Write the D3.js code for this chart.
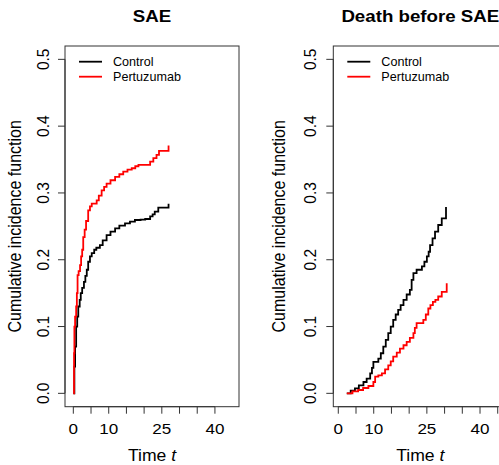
<!DOCTYPE html>
<html><head><meta charset="utf-8">
<script src="https://cdn.jsdelivr.net/npm/d3@7"></script>
<style>html,body{margin:0;padding:0;background:#fff;}svg{display:block;font-family:"Liberation Sans",Arial,Helvetica,sans-serif;}</style>
</head><body>
<svg id="chart" width="499" height="465"></svg>
<script>
// ---- data ----
const panelTitles = ["SAE", "Death before SAE"];
const seriesNames = ["Control", "Pertuzumab"];
const seriesColors = ["#000000", "#ff0000"];
const xTicksLeft = [0, 5, 10, 15, 20, 25, 30, 35, 40];
const xTicksRight = [0, 5, 10, 15, 20, 25, 30, 35, 40, 45];
const xTickLabelsLeft = ["0", "", "10", "", "", "25", "", "", "40"];
const xTickLabelsRight = ["0", "", "10", "", "", "25", "", "", "40", ""];
const yTicks = [0, 0.1, 0.2, 0.3, 0.4, 0.5];
const yTickLabels = ["0.0", "0.1", "0.2", "0.3", "0.4", "0.5"];

const saeControlT = [0, 0.3, 0.5, 0.8, 1.1, 1.4, 1.8, 2.1, 2.5, 3.0, 3.4, 3.8, 4.2, 4.7, 5.2, 5.9, 6.5, 7.5, 8.3, 9.4, 10.5, 11.8, 13, 14.6, 16, 17.4, 19, 20.3, 21.7, 22.4, 23, 24, 26.9];
const saeControlV = [0, 0.04, 0.07, 0.1, 0.115, 0.13, 0.14, 0.15, 0.158, 0.167, 0.176, 0.185, 0.197, 0.205, 0.21, 0.215, 0.218, 0.222, 0.229, 0.237, 0.242, 0.247, 0.251, 0.2545, 0.257, 0.2595, 0.26, 0.261, 0.265, 0.268, 0.272, 0.278, 0.284];
const saeTrtT = [0, 0.2, 0.3, 0.5, 0.8, 1.0, 1.2, 1.5, 1.9, 2.2, 2.5, 2.8, 3.2, 3.6, 4.2, 4.7, 5.2, 6.6, 7.2, 8.0, 8.7, 9.4, 10.5, 11.8, 13, 14.1, 15.3, 16.5, 17.5, 18.4, 21.7, 22.6, 23.5, 24.2, 26.9];
const saeTrtV = [0, 0.06, 0.1, 0.115, 0.13, 0.15, 0.177, 0.183, 0.192, 0.205, 0.215, 0.234, 0.245, 0.258, 0.274, 0.28, 0.284, 0.289, 0.296, 0.304, 0.309, 0.314, 0.319, 0.324, 0.328, 0.332, 0.335, 0.337, 0.34, 0.342, 0.347, 0.352, 0.357, 0.363, 0.371];
const deathControlT = [2.4, 3.5, 4.7, 5.8, 7.1, 8.0, 9.0, 9.5, 9.9, 11.3, 12.0, 12.7, 13.4, 14.1, 14.8, 15.5, 16.2, 16.9, 17.6, 18.4, 19.3, 20.2, 20.7, 21.2, 22.1, 23.6, 24.3, 25.0, 25.5, 25.9, 26.6, 27.3, 28.2, 29.2, 30.4];
const deathControlV = [0, 0.004, 0.0075, 0.012, 0.017, 0.022, 0.03, 0.038, 0.047, 0.052, 0.06, 0.07, 0.08, 0.09, 0.1, 0.11, 0.118, 0.125, 0.132, 0.14, 0.148, 0.155, 0.17, 0.18, 0.185, 0.19, 0.197, 0.205, 0.212, 0.222, 0.232, 0.242, 0.252, 0.262, 0.279];
const deathTrtT = [2.4, 4.0, 5.6, 7.0, 8.5, 9.9, 10.4, 11.3, 12.3, 13.2, 14.1, 14.8, 15.5, 16.5, 17.4, 18.4, 19.3, 20.2, 21.2, 21.6, 22.1, 24.0, 24.7, 25.4, 26.0, 26.7, 27.4, 28.2, 29.2, 30.6];
const deathTrtV = [0, 0.003, 0.005, 0.008, 0.011, 0.017, 0.025, 0.027, 0.03, 0.036, 0.042, 0.048, 0.055, 0.061, 0.067, 0.072, 0.077, 0.083, 0.09, 0.098, 0.105, 0.11, 0.118, 0.127, 0.132, 0.137, 0.14, 0.145, 0.152, 0.165];

const panelData = [
  [[saeControlT, saeControlV], [saeTrtT, saeTrtV]],
  [[deathControlT, deathControlV], [deathTrtT, deathTrtV]]
];

// ---- layout ----
const SX = 1.1; // horizontal text stretch
const boxes = [
  {left: 65, right: 239, xDom: [-2.35, 46.8], yLab: 15, tickLab: 44, ticks: xTicksLeft, labels: xTickLabelsLeft},
  {left: 333.3, right: 507.3, xDom: [-1.41, 47.7], yLab: 279, tickLab: 311, ticks: xTicksRight, labels: xTickLabelsRight}
];
const boxTop = 46, boxBottom = 406.7;
const yDom = [-0.02, 0.52];

const svg = d3.select("#chart");
const y = d3.scaleLinear().domain(yDom).range([boxBottom, boxTop]);

boxes.forEach((b, p) => {
  const x = d3.scaleLinear().domain(b.xDom).range([b.left, b.right]);
  const g = svg.append("g");
  const xTicks = b.ticks, xTickLabels = b.labels;

  // title
  g.append("text")
    .attr("transform", `translate(${(b.left + b.right) / 2},22) scale(${SX},1)`)
    .attr("text-anchor", "middle").attr("font-weight", "bold").attr("font-size", 17)
    .text(panelTitles[p]);

  // box
  g.append("rect").attr("x", b.left).attr("y", boxTop)
    .attr("width", b.right - b.left).attr("height", boxBottom - boxTop)
    .attr("fill", "none").attr("stroke", "#333").attr("stroke-width", 1);

  // x axis
  g.append("line").attr("x1", x(xTicks[0])).attr("x2", x(xTicks[xTicks.length - 1]))
    .attr("y1", boxBottom).attr("y2", boxBottom).attr("stroke", "#333");
  xTicks.forEach((t, i) => {
    g.append("line").attr("x1", x(t)).attr("x2", x(t))
      .attr("y1", boxBottom).attr("y2", boxBottom + 7).attr("stroke", "#333");
    if (xTickLabels[i]) {
      g.append("text")
        .attr("transform", `translate(${x(t)},434) scale(${SX},1)`)
        .attr("text-anchor", "middle").attr("font-size", 15.5).text(xTickLabels[i]);
    }
  });
  const xt = g.append("text")
    .attr("transform", `translate(${(b.left + b.right) / 2},461) scale(${SX},1)`)
    .attr("text-anchor", "middle").attr("font-size", 16);
  xt.append("tspan").text("Time ");
  xt.append("tspan").attr("font-style", "italic").text("t");

  // y axis
  g.append("line").attr("x1", b.left).attr("x2", b.left)
    .attr("y1", y(yTicks[0])).attr("y2", y(yTicks[yTicks.length - 1])).attr("stroke", "#333");
  yTicks.forEach((v, i) => {
    g.append("line").attr("x1", b.left - 7).attr("x2", b.left)
      .attr("y1", y(v)).attr("y2", y(v)).attr("stroke", "#333");
    g.append("text")
      .attr("transform", `translate(${b.tickLab + 5},${y(v)}) scale(${SX},1) rotate(-90)`)
      .attr("text-anchor", "middle").attr("font-size", 15.5).text(yTickLabels[i]);
  });
  g.append("text")
    .attr("transform", `translate(${b.yLab + 5.5},${(boxTop + boxBottom) / 2}) scale(${SX},1) rotate(-90)`)
    .attr("text-anchor", "middle").attr("font-size", 16).text("Cumulative incidence function");

  // curves
  const clip = "clip" + p;
  svg.append("clipPath").attr("id", clip).append("rect")
    .attr("x", b.left).attr("y", boxTop).attr("width", b.right - b.left).attr("height", boxBottom - boxTop);
  const line = d3.line().x(d => x(d[0])).y(d => y(d[1])).curve(d3.curveStepAfter);
  panelData[p].forEach((s, k) => {
    const pts = s[0].map((t, i) => [t, s[1][i]]);
    g.append("path").attr("d", line(pts)).attr("fill", "none")
      .attr("stroke", seriesColors[k]).attr("stroke-width", 1.8)
      .attr("clip-path", `url(#${clip})`);
  });

  // legend
  seriesNames.forEach((n, k) => {
    const ly = 61.7 + k * 15;
    g.append("line").attr("x1", b.left + 14).attr("x2", b.left + 37)
      .attr("y1", ly).attr("y2", ly).attr("stroke", seriesColors[k]).attr("stroke-width", 1.8);
    g.append("text")
      .attr("transform", `translate(${b.left + 48},${ly + 4.3}) scale(1.05,1)`)
      .attr("font-size", 12).text(n);
  });
});
</script>
</body></html>
